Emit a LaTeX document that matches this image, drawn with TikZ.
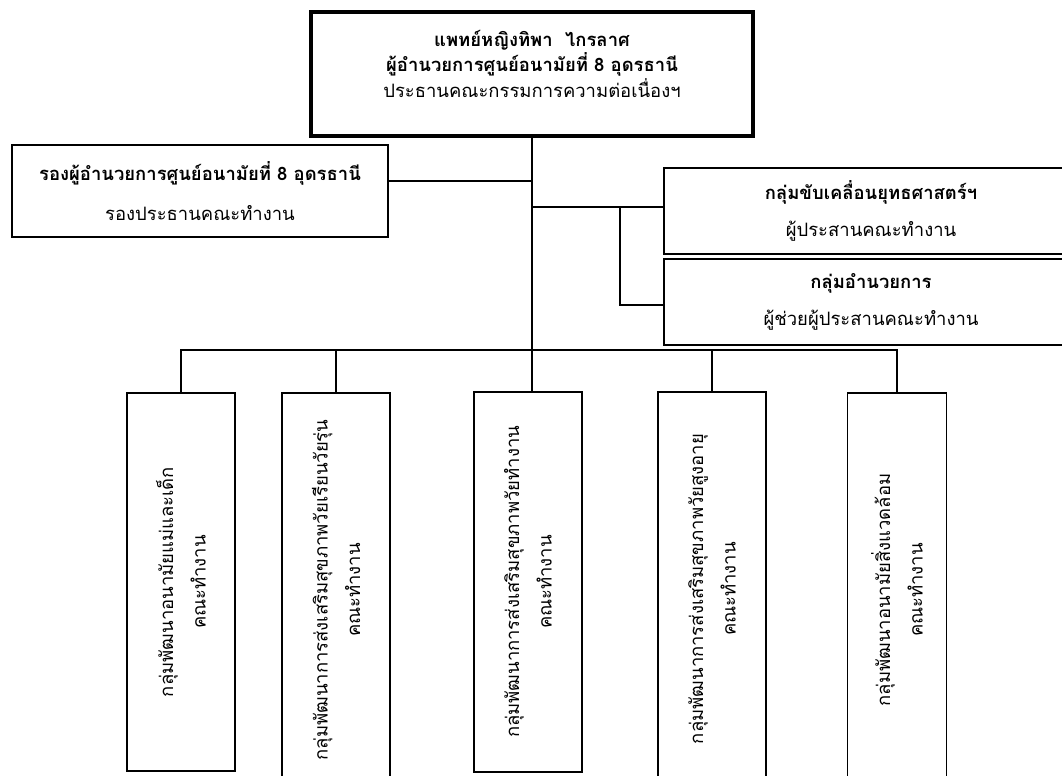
\documentclass[tikz,border=0pt]{standalone}
\usepackage{fontspec}
\newfontfamily\thaifont[Script=Thai]{Loma}
\usetikzlibrary{positioning}

\begin{document}
\begin{tikzpicture}[x=0.02cm, y=-0.02cm, font=\thaifont\fontsize{10.5}{12.5}\selectfont, line width=1.1pt]
\tikzstyle{bx}=[draw, align=center, inner sep=0pt]
\tikzstyle{vbx}=[bx, rotate=90, minimum height=2.16cm]

\useasboundingbox (0,0) rectangle (1062,776);

% head of the committee
\node[bx, line width=1.8pt, minimum width=8.84cm, minimum height=2.48cm] (head) at (532,74) {};
\node[align=center] (headtxt) at (532,64)
  {\textbf{แพทย์หญิงทิพา\ \ ไกรลาศ}\\[0.5pt]\textbf{ผู้อำนวยการศูนย์อนามัยที่ 8 อุดรธานี}\\[0.5pt]ประธานคณะกรรมการความต่อเนื่องฯ};

\node[bx, minimum width=7.52cm, minimum height=1.84cm] (vice) at (200,191)
  {\textbf{รองผู้อำนวยการศูนย์อนามัยที่ 8 อุดรธานี}\\[10pt]รองประธานคณะทำงาน};
\draw ([yshift=0.2cm]vice.east) -- ([yshift=0.2cm]vice.east -| head.south);

% coordinators on the right
\node[bx, minimum width=8.3cm, minimum height=1.72cm] (strat) at (871,211)
  {\textbf{กลุ่มขับเคลื่อนยุทธศาสตร์ฯ}\\[9pt]ผู้ประสานคณะทำงาน};
\node[bx, minimum width=8.3cm, minimum height=1.72cm, below=0.06cm of strat] (admin)
  {\textbf{กลุ่มอำนวยการ}\\[9pt]ผู้ช่วยผู้ประสานคณะทำงาน};
\draw ([yshift=0.08cm]strat.west) -- ([yshift=0.08cm]strat.west -| head.south);
\coordinate (jn) at (620,207);
\draw (jn) |- ([yshift=-0.06cm]admin.west);

% working groups (rotated: east = top of box)
\coordinate (bus) at (532,350);
\node[vbx, minimum width=7.58cm] (g1) at (181,582) {กลุ่มพัฒนาอนามัยแม่และเด็ก\\[6pt]คณะทำงาน};
\node[vbx, minimum width=7.9cm] (g2) at (336,590) {กลุ่มพัฒนาการส่งเสริมสุขภาพวัยเรียนวัยรุ่น\\[6pt]คณะทำงาน};
\node[vbx, minimum width=7.6cm] (g3) at (528,582) {กลุ่มพัฒนาการส่งเสริมสุขภาพวัยทำงาน\\[6pt]คณะทำงาน};
\node[vbx, minimum width=7.9cm] (g4) at (712,589) {กลุ่มพัฒนาการส่งเสริมสุขภาพวัยสูงอายุ\\[6pt]คณะทำงาน};
\node[vbx, minimum width=7.9cm, minimum height=1.98cm] (g5) at (897,590) {กลุ่มพัฒนาอนามัยสิ่งแวดล้อม\\[6pt]คณะทำงาน};

\draw (head.south) -- (head.south |- g3.east);
\draw (g1.east) -- (g1.east |- bus) -- (g5.east |- bus) -- (g5.east);
\draw (g2.east) -- (g2.east |- bus);
\draw (g4.east) -- (g4.east |- bus);
\end{tikzpicture}
\end{document}
